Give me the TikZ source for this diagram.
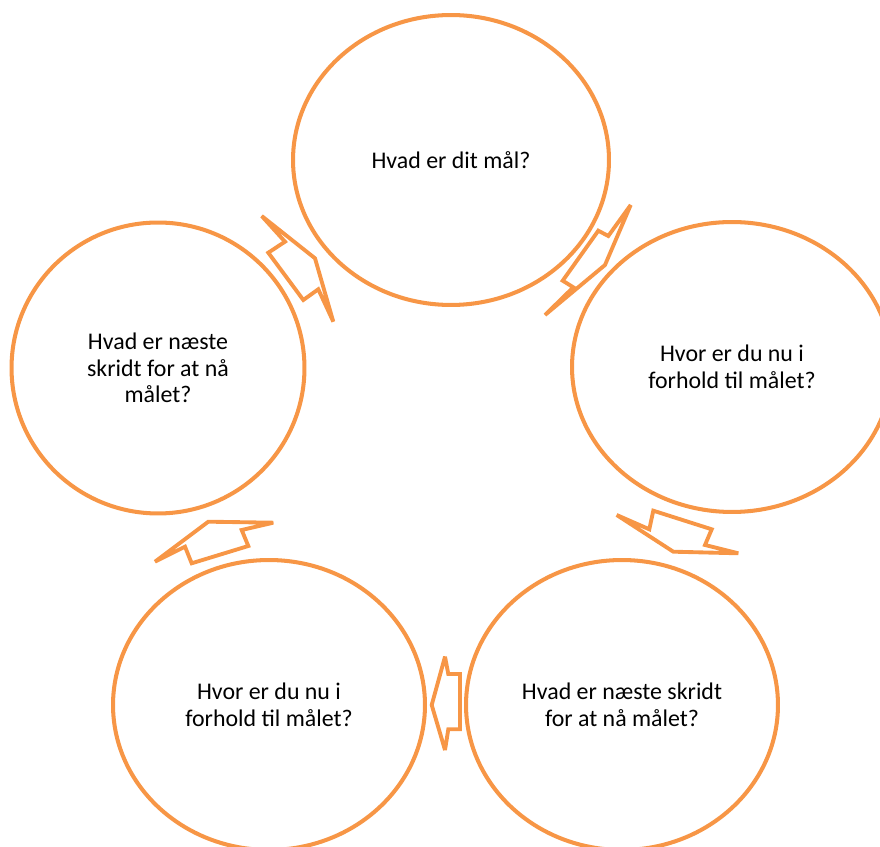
\documentclass[tikz,border=0pt]{standalone}
\usepackage{fontspec}
\setmainfont{Carlito}
\usetikzlibrary{shapes.geometric}
\definecolor{cycleorange}{HTML}{F79646}
\tikzset{
  stage/.style={ellipse, draw=cycleorange, line width=2.3pt, inner sep=0pt,
    align=center, font=\fontsize{13.6}{15.2}\selectfont},
  blockarrow/.style={draw=cycleorange, line width=2.2pt, line join=miter, miter limit=3}
}
\begin{document}
\begin{tikzpicture}[x=0.02cm,y=-0.02cm]
    \useasboundingbox (0,0) rectangle (880,847);
    \clip (0,0) rectangle (880,847);

    \node [stage, minimum width=6.32cm, minimum height=5.8cm] (goal) at (451,160) {Hvad er dit mål?};
    \node [stage, minimum width=6.4cm, minimum height=5.8cm] (where) at (732,367) {Hvor er du nu i\\forhold til målet?};
    \node [stage, minimum width=6.24cm, minimum height=5.8cm] (next) at (622,705) {Hvad er næste skridt\\for at nå målet?};
    \node [stage, minimum width=6.24cm, minimum height=5.8cm] (whereagain) at (269,705) {Hvor er du nu i\\forhold til målet?};
    \node [stage, minimum width=5.86cm, minimum height=5.82cm] (nextagain) at (158,368) {Hvad er næste\\skridt for at nå\\målet?};

%   block arrows round the cycle
    \draw [blockarrow] (261.7,216) -- (285,241.7) -- (268.3,252.7) -- (303.3,300) -- (318.3,289.3) -- (333.3,321.7) -- (315,258.3) -- cycle;
    \draw [blockarrow] (630.7,205) -- (608.3,236) -- (598.3,230.7) -- (562.7,280.7) -- (573.3,287.3) -- (545,315) -- (605,265) -- cycle;
    \draw [blockarrow] (616.7,515) -- (649.3,529.3) -- (653.3,510.7) -- (711.7,529.3) -- (705,545) -- (738.3,553.3) -- (673.3,551.7) -- cycle;
    \draw [blockarrow] (445,656.7) -- (448.3,674) -- (460,674) -- (460,729.3) -- (448.3,729.3) -- (445,750) -- (431.7,705) -- cycle;
    \draw [blockarrow] (155,561.7) -- (185,546.7) -- (191.7,563.3) -- (248.3,546) -- (241.7,530) -- (273.3,522.7) -- (208.3,521.7) -- cycle;

\end{tikzpicture}
\end{document}
